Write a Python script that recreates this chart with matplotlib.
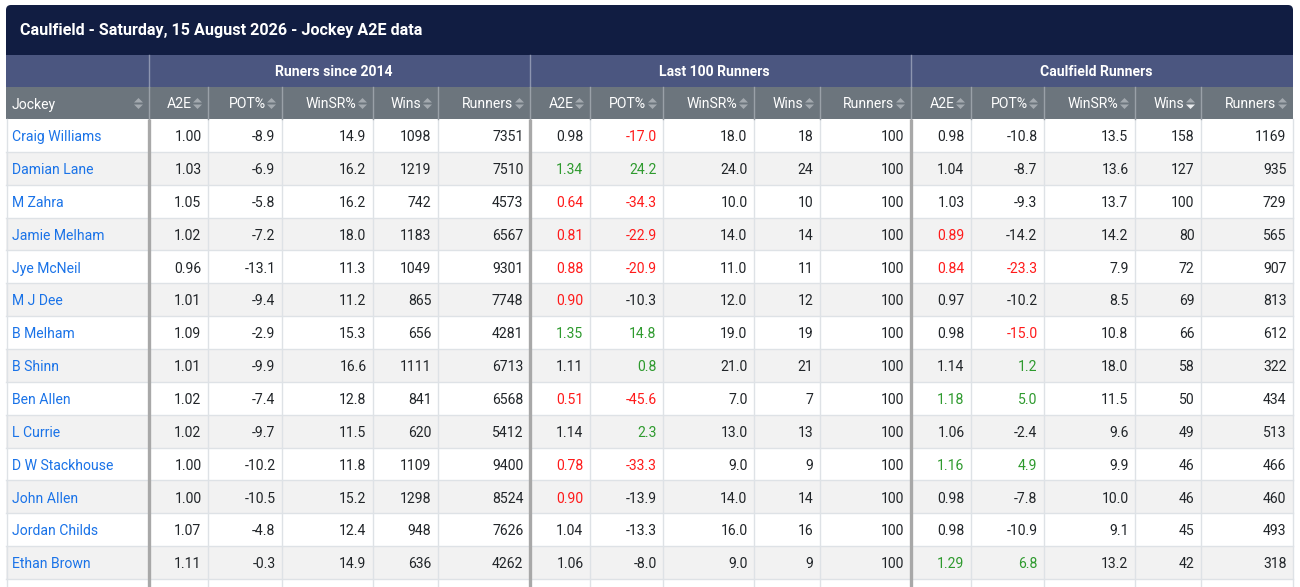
import matplotlib
matplotlib.use("Agg")
import matplotlib.pyplot as plt
from matplotlib.patches import Rectangle, Polygon, FancyBboxPatch

# ---------------- data ----------------
title = "Caulfield - Saturday, 15 August 2026 - Jockey A2E data"
groups = ["Runers since 2014", "Last 100 Runners", "Caulfield Runners"]
subcols = ["A2E", "POT%", "WinSR%", "Wins", "Runners"]

jockeys = ["Craig Williams", "Damian Lane", "M Zahra", "Jamie Melham", "Jye McNeil",
           "M J Dee", "B Melham", "B Shinn", "Ben Allen", "L Currie",
           "D W Stackhouse", "John Allen", "Jordan Childs", "Ethan Brown"]

# Runners since 2014
s14_a2e = [1.00, 1.03, 1.05, 1.02, 0.96, 1.01, 1.09, 1.01, 1.02, 1.02, 1.00, 1.00, 1.07, 1.11]
s14_pot = [-8.9, -6.9, -5.8, -7.2, -13.1, -9.4, -2.9, -9.9, -7.4, -9.7, -10.2, -10.5, -4.8, -0.3]
s14_wsr = [14.9, 16.2, 16.2, 18.0, 11.3, 11.2, 15.3, 16.6, 12.8, 11.5, 11.8, 15.2, 12.4, 14.9]
s14_wins = [1098, 1219, 742, 1183, 1049, 865, 656, 1111, 841, 620, 1109, 1298, 948, 636]
s14_runners = [7351, 7510, 4573, 6567, 9301, 7748, 4281, 6713, 6568, 5412, 9400, 8524, 7626, 4262]

# Last 100 runners
l100_a2e = [0.98, 1.34, 0.64, 0.81, 0.88, 0.90, 1.35, 1.11, 0.51, 1.14, 0.78, 0.90, 1.04, 1.06]
l100_pot = [-17.0, 24.2, -34.3, -22.9, -20.9, -10.3, 14.8, 0.8, -45.6, 2.3, -33.3, -13.9, -13.3, -8.0]
l100_wsr = [18.0, 24.0, 10.0, 14.0, 11.0, 12.0, 19.0, 21.0, 7.0, 13.0, 9.0, 14.0, 16.0, 9.0]
l100_wins = [18, 24, 10, 14, 11, 12, 19, 21, 7, 13, 9, 14, 16, 9]
l100_runners = [100] * 14

# Caulfield runners
cau_a2e = [0.98, 1.04, 1.03, 0.89, 0.84, 0.97, 0.98, 1.14, 1.18, 1.06, 1.16, 0.98, 0.98, 1.29]
cau_pot = [-10.8, -8.7, -9.3, -14.2, -23.3, -10.2, -15.0, 1.2, 5.0, -2.4, 4.9, -7.8, -10.9, 6.8]
cau_wsr = [13.5, 13.6, 13.7, 14.2, 7.9, 8.5, 10.8, 18.0, 11.5, 9.6, 9.9, 10.0, 9.1, 13.2]
cau_wins = [158, 127, 100, 80, 72, 69, 66, 58, 50, 49, 46, 46, 45, 42]
cau_runners = [1169, 935, 729, 565, 907, 813, 612, 322, 434, 513, 466, 460, 493, 318]

group_data = [
    (s14_a2e, s14_pot, s14_wsr, s14_wins, s14_runners),
    (l100_a2e, l100_pot, l100_wsr, l100_wins, l100_runners),
    (cau_a2e, cau_pot, cau_wsr, cau_wins, cau_runners),
]

# ---------------- layout / style ----------------
W, H = 1300, 587
x0, x1 = 6, 1293
first_w = 143
sub_w = [59, 74, 91, 65, 92], [60, 73, 91, 66, 91], [60, 73, 91, 66, 92]

title_top, title_bot = 5, 55
grp_bot = 87
hdr_bot = 119
row_h = 32.85

C_TITLE = "#111d42"
C_GROUP = "#4b5680"
C_HDR = "#6c757d"
C_ICON = "#a3a9af"
C_ICON_ACT = "#eceef0"
C_STRIPE = "#f2f2f2"
C_GRID = "#dee2e6"
C_THICK = "#a8a8a8"
C_TEXT = "#212529"
C_LINK = "#1a73e8"
C_RED = "#ff1a1a"
C_GREEN = "#2e9a2e"

FONT = ["Roboto", "DejaVu Sans"]
FS = 10.1

plt.rcParams["font.family"] = FONT
fig = plt.figure(figsize=(W / 100, H / 100), dpi=100)
ax = fig.add_axes([0, 0, 1, 1])
ax.set_xlim(0, W)
ax.set_ylim(H, 0)
ax.axis("off")

# column edges
edges = [x0, x0 + first_w]
for g in sub_w:
    for w in g:
        edges.append(edges[-1] + w)
group_edges = [edges[1], edges[6], edges[11], edges[16]]

# title bar (rounded top)
ax.add_patch(FancyBboxPatch((x0, title_top), x1 - x0, 30,
                            boxstyle="round,pad=0,rounding_size=5",
                            fc=C_TITLE, ec="none", zorder=1))
ax.add_patch(Rectangle((x0, title_top + 15), x1 - x0, title_bot - title_top - 15,
                       fc=C_TITLE, ec="none", zorder=1))
ax.text(20, (title_top + title_bot) / 2 + 0.5, title, color="white", fontsize=11.6,
        fontweight="bold", va="center", ha="left", zorder=5)

# group row
ax.add_patch(Rectangle((x0, title_bot), x1 - x0, grp_bot - title_bot, fc=C_GROUP, ec="none", zorder=1))
for gi, name in enumerate(groups):
    gx0, gx1 = group_edges[gi], group_edges[gi + 1]
    ax.text((gx0 + gx1) / 2 - 6, (title_bot + grp_bot) / 2 + 0.7, name, color="white",
            fontsize=FS, fontweight="bold", ha="center", va="center", zorder=5)
for gx in group_edges[:-1]:
    ax.plot([gx, gx], [title_bot, grp_bot], color="#8d95b0", lw=1.0, zorder=3)

# header row
ax.add_patch(Rectangle((x0, grp_bot), x1 - x0, hdr_bot - grp_bot, fc=C_HDR, ec="none", zorder=1))
headers = ["Jockey"] + subcols * 3
hy = (grp_bot + hdr_bot) / 2


def sort_icon(cx, cy, active_down=False):
    up = Polygon([[cx - 4.5, cy - 1], [cx + 4.5, cy - 1], [cx, cy - 5.5]], closed=True,
                 fc=C_ICON, ec="none", zorder=6)
    dn = Polygon([[cx - 4.5, cy + 1], [cx + 4.5, cy + 1], [cx, cy + 5.5]], closed=True,
                 fc=C_ICON_ACT if active_down else C_ICON, ec="none", zorder=6)
    ax.add_patch(up)
    ax.add_patch(dn)


for ci, hname in enumerate(headers):
    cx0, cx1 = edges[ci], edges[ci + 1]
    icx = cx1 - 10.5
    sort_icon(icx, hy + 0.5, active_down=(ci == 14))
    if ci == 0:
        ax.text(cx0 + 6, hy + 5.5, hname, color="white", fontsize=FS, ha="left",
                va="baseline", zorder=5)
    else:
        ax.text(icx - 6, hy + 5.5, hname, color="white", fontsize=FS, ha="right",
                va="baseline", zorder=5)
for ex in edges[1:-1]:
    ax.plot([ex, ex], [grp_bot, hdr_bot], color="#9aa1a8", lw=1.0, zorder=3)

# data rows
n_rows = len(jockeys)


def colour_for(col, v):
    if col == 0:
        if v < 0.95:
            return C_RED
        if v > 1.15:
            return C_GREEN
    if col == 1:
        if v <= -15:
            return C_RED
        if v > 0:
            return C_GREEN
    return C_TEXT


fmts = ["{:.2f}", "{:.1f}", "{:.1f}", "{:d}", "{:d}"]

total_rows = n_rows + 1  # partial extra row at the bottom
for r in range(total_rows):
    top = hdr_bot + r * row_h
    fc = C_STRIPE if r % 2 == 1 else "white"
    ax.add_patch(Rectangle((x0, top), x1 - x0, row_h, fc=fc, ec="none", zorder=1))
    ax.plot([x0, x1], [top + row_h, top + row_h], color=C_GRID, lw=1.0, zorder=2)
    if r >= n_rows:
        continue
    base = top + row_h / 2 + 5.8
    ax.text(edges[0] + 6, base, jockeys[r], color=C_LINK, fontsize=FS, ha="left",
            va="baseline", zorder=5)
    for gi, gd in enumerate(group_data):
        for k in range(5):
            ci = 1 + gi * 5 + k
            v = gd[k][r]
            col = colour_for(k, v)
            ax.text(edges[ci + 1] - 6.5, base, fmts[k].format(v), color=col, fontsize=FS,
                    ha="right", va="baseline", zorder=5)

# vertical grid lines in data
y_data_top = hdr_bot
for ex in edges[1:-1]:
    if ex in group_edges:
        ax.plot([ex, ex], [y_data_top, H], color=C_THICK, lw=2.4, zorder=4,
                solid_capstyle="butt")
    else:
        ax.plot([ex, ex], [y_data_top, H], color=C_GRID, lw=1.0, zorder=2)
ax.plot([x0 + 0.5, x0 + 0.5], [y_data_top, H], color=C_GRID, lw=1.0, zorder=2)
ax.plot([x1 - 0.5, x1 - 0.5], [y_data_top, H], color=C_GRID, lw=1.0, zorder=2)

fig.savefig("out.png", dpi=100)
